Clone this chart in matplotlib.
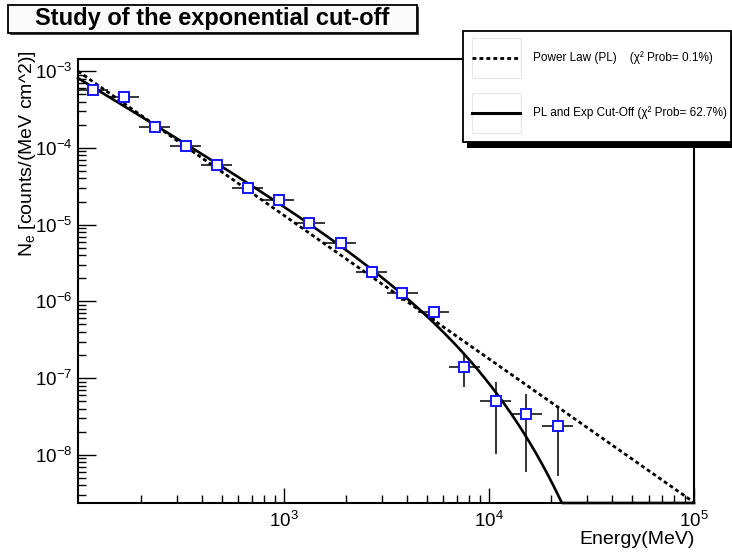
import matplotlib
matplotlib.use("Agg")
import matplotlib.pyplot as plt
from matplotlib.lines import Line2D
from matplotlib.patches import Rectangle
from matplotlib.ticker import LogLocator, NullFormatter
import numpy as np

plt.rcParams["font.family"] = ["Liberation Sans", "DejaVu Sans"]
plt.rcParams["mathtext.fontset"] = "custom"
plt.rcParams["mathtext.rm"] = "Liberation Sans"
plt.rcParams["mathtext.it"] = "Liberation Sans:italic"
plt.rcParams["mathtext.bf"] = "Liberation Sans:bold"
plt.rcParams["axes.unicode_minus"] = False

energy = [117, 166, 235, 333, 471, 667, 945, 1324, 1896, 2685, 3764,
          5395, 7556, 10820, 15150, 21710]
bin_edges = [99, 139, 197, 279, 395, 560, 793, 1120, 1590, 2250, 3180,
             4510, 6380, 9040, 12800, 18100, 25600]
flux = [5.66e-4, 4.59e-4, 1.87e-4, 1.06e-4, 6.0e-5, 3.03e-5, 2.11e-5,
        1.06e-5, 5.84e-6, 2.45e-6, 1.27e-6, 7.2e-7, 1.39e-7, 5.03e-8,
        3.4e-8, 2.38e-8]
flux_err = [4e-5, 3e-5, 1.2e-5, 7e-6, 4e-6, 2.5e-6, 1.8e-6, 1.0e-6,
            9e-7, 4.5e-7, 2.5e-7, 1.6e-7, 6.2e-8, 4.0e-8, 2.8e-8, 1.85e-8]

# fit parameters, estimated from the drawn curves
e_ref = 100.0
pl_norm, pl_index = 9.8e-4, 1.87
co_norm, co_index, co_cutoff = 8.13e-4, 1.60, 5570.0

legend_labels = ["Power Law (PL)    (\u03c7\u00b2 Prob= 0.1%)",
                 "PL and Exp Cut-Off (\u03c7\u00b2 Prob= 62.7%)"]

x_range = (99, 1e5)
y_range = (2.36e-9, 1.44e-3)

W, H = 732, 553


def fx(x):
    return x / W


def fy(y):
    return 1 - y / H


def box(fig, x0, y0, x1, y1, **kw):
    r = Rectangle((fx(x0), fy(y1)), (x1 - x0) / W, (y1 - y0) / H,
                  transform=fig.transFigure, **kw)
    fig.add_artist(r)


fig = plt.figure(figsize=(W / 100, H / 100), dpi=100)
ax = fig.add_axes([fx(78), fy(503), fx(694) - fx(78), fy(59) - fy(503)])

e = np.asarray(energy)
edges = np.asarray(bin_edges)
xerr = [e - edges[:-1], edges[1:] - e]
ax.errorbar(e, flux, xerr=xerr, yerr=flux_err, fmt="s", ms=7.4,
            mfc="white", mec="#1414ff", mew=1.4, ecolor="black",
            elinewidth=1.1, capsize=0, zorder=4)

grid = np.logspace(np.log10(x_range[0]), np.log10(x_range[1]), 800)
pl = pl_norm * (grid / e_ref) ** -pl_index
co = co_norm * (grid / e_ref) ** -co_index * np.exp(-grid / co_cutoff)
# ROOT pins anything below the frame minimum onto the frame
pl = np.maximum(pl, y_range[0])
co = np.maximum(co, y_range[0])
ax.plot(grid, pl, color="black", lw=2.0, ls=(0, (1.4, 1.1)), clip_on=False, zorder=3)
ax.plot(grid, co, color="black", lw=1.9, clip_on=False, zorder=3)

ax.set_xscale("log")
ax.set_yscale("log")
ax.set_xlim(*x_range)
ax.set_ylim(*y_range)
ax.set_xticks([1e3, 1e4, 1e5])
ax.xaxis.set_minor_locator(LogLocator(base=10, subs=np.arange(2, 10), numticks=20))
ax.yaxis.set_minor_locator(LogLocator(base=10, subs=np.arange(2, 10), numticks=20))
ax.xaxis.set_minor_formatter(NullFormatter())
ax.yaxis.set_minor_formatter(NullFormatter())
ax.tick_params(which="both", direction="in", top=False, right=False,
               labelsize=13.5, width=1.0)
ax.tick_params(axis="x", which="major", length=11, pad=6)
ax.tick_params(axis="x", which="minor", length=5.5)
ax.tick_params(axis="y", which="major", length=13, pad=4)
ax.tick_params(axis="y", which="minor", length=6)
for s in ax.spines.values():
    s.set_linewidth(1.5)

fig.text(fx(28), fy(50), "N$_\\mathregular{e}$ [counts/(MeV cm^2)]",
         rotation=90, ha="center", va="top", fontsize=14)
fig.text(fx(695), fy(540), "Energy(MeV)", ha="right", va="center", fontsize=14)

# title pave with shadow
box(fig, 10, 7, 419, 35, facecolor="#444444", edgecolor="none")
box(fig, 8, 5, 417, 33, facecolor="#fafafa", edgecolor="black", lw=1.3)
fig.text(fx(212), fy(19), "Study of the exponential cut-off",
         ha="center", va="center", fontsize=17, fontweight="bold")

# legend pave with shadow
box(fig, 467, 36, 735, 148, facecolor="black", edgecolor="none", zorder=5)
box(fig, 463, 31, 731, 142, facecolor="white", edgecolor="black", lw=1.3, zorder=6)
styles = [dict(lw=2.0, ls=(0, (1.4, 1.1))), dict(lw=2.2, ls="-")]
for i, (ycen, lab) in enumerate(zip([58, 113], legend_labels)):
    box(fig, 472, ycen - 20, 521, ycen + 20, facecolor="white",
        edgecolor="#e6e6e6", lw=0.8, zorder=7)
    fig.add_artist(Line2D([fx(472), fx(520)], [fy(ycen), fy(ycen)],
                          transform=fig.transFigure, color="black",
                          zorder=8, **styles[i]))
    fig.text(fx(533), fy(ycen), lab, ha="left", va="center",
             fontsize=8.5, zorder=8)

fig.savefig("out.png", dpi=100)
